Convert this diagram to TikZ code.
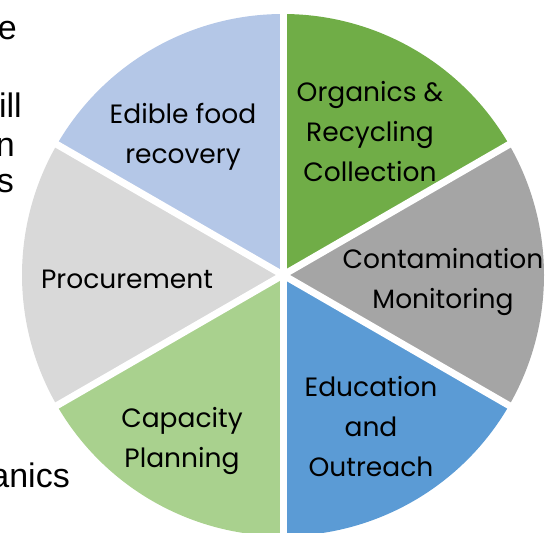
\documentclass[tikz,border=0pt]{standalone}
\usepackage{fontspec}
\setmainfont{Poppins}
\newfontfamily\sidefont{Liberation Sans}

% sector fills
\definecolor{edibleblue}{HTML}{B4C7E7}
\definecolor{organicsgreen}{HTML}{70AD47}
\definecolor{contamgray}{HTML}{A5A5A5}
\definecolor{edublue}{HTML}{5B9BD5}
\definecolor{capgreen}{HTML}{A9D18E}
\definecolor{procgray}{HTML}{D9D9D9}

\tikzset{
  sectorlabel/.style={align=center, inner sep=0pt, text=black,
    font=\fontsize{26.5}{40}\selectfont},
  sidetext/.style={anchor=base east, inner sep=0pt, text=black,
    font=\sidefont\fontsize{34}{40}\selectfont},
  gapline/.style={white, line width=7pt}
}

\begin{document}
\begin{tikzpicture}[x=1pt,y=1pt]
  \useasboundingbox (0,0) rectangle (545,532);
  \clip (0,0) rectangle (545,532);

  % text running in from the left, partly hidden
  \node[sidetext] (t1) at (17,492) {e};
  \node[sidetext] (t2) at (22,414) {ill};
  \node[sidetext] (t3) at (15,375) {n};
  \node[sidetext] (t4) at (14,339) {s};
  \node[sidetext] (t5) at (70,45) {anics};

  \coordinate (c) at (283,257);
  \def\R{261}

  % six equal sectors
  \fill[organicsgreen] (c) -- ++(30:\R) arc[start angle=30, end angle=90, radius=\R] -- cycle;
  \fill[edibleblue] (c) -- ++(90:\R) arc[start angle=90, end angle=150, radius=\R] -- cycle;
  \fill[procgray] (c) -- ++(150:\R) arc[start angle=150, end angle=210, radius=\R] -- cycle;
  \fill[capgreen] (c) -- ++(210:\R) arc[start angle=210, end angle=270, radius=\R] -- cycle;
  \fill[edublue] (c) -- ++(270:\R) arc[start angle=270, end angle=330, radius=\R] -- cycle;
  \fill[contamgray] (c) -- ++(330:\R) arc[start angle=330, end angle=390, radius=\R] -- cycle;

  % white separators between sectors
  \foreach \a in {30,90,150,210,270,330}
    \draw[gapline] (c) -- ++(\a:\R+6);

  % sector labels
  \node[sectorlabel] (edible) at (183,395) {Edible food\\recovery};
  \node[sectorlabel] (organics) at (370,400) {Organics \&\\Recycling\\Collection};
  \node[sectorlabel] (contam) at (443,250) {Contamination\\Monitoring};
  \node[sectorlabel] (proc) at (127,253) {Procurement};
  \node[sectorlabel] (capacity) at (182,91) {Capacity\\Planning};
  \node[sectorlabel] (education) at (371,105) {Education\\and\\Outreach};
\end{tikzpicture}
\end{document}
